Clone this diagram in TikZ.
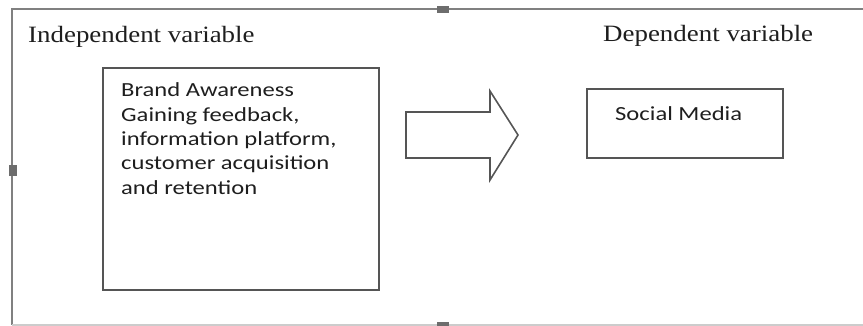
\documentclass[tikz,border=0pt]{standalone}
\usepackage{fontspec}
\setmainfont[FakeStretch=1.15]{Liberation Serif}
\newfontfamily\calib[FakeStretch=1.23]{Carlito}
\definecolor{framegray}{RGB}{128,128,128}
\definecolor{boxgray}{RGB}{85,85,85}
\definecolor{txt}{RGB}{30,30,30}
\begin{document}
\begin{tikzpicture}[x=1pt,y=-1pt,
  frame/.style={draw=framegray,line width=1.8pt},
  handle/.style={fill=framegray!85!black,draw=none},
  boxline/.style={draw=boxgray,line width=1.6pt},
  heading/.style={inner sep=0pt,anchor=base west,text=txt,font=\fontsize{23.4}{28}\selectfont},
  body/.style={inner sep=0pt,anchor=base west,text=txt,align=left,font=\calib\fontsize{20}{24.3}\selectfont}]
\useasboundingbox (0,0) rectangle (863,326);
% outer frame
\draw[frame] (863,9) -- (12,9) -- (12,325);
\draw[draw=framegray!40,line width=1.5pt] (12,325) -- (863,325);
\fill[handle] (437,6) rectangle (449,13);
\fill[handle] (9,165) rectangle (17,176);
\fill[handle] (437,322) rectangle (449,326);
% headings
\node[heading] (ivlabel) at (28,43) {Independent variable};
\node[heading] (dvlabel) at (603,42) {Dependent variable};
% boxes
\draw[boxline] (103,68) rectangle (379,290);
\node[body] (ivtext) at (121,194.2) {Brand Awareness\\Gaining feedback,\\information platform,\\customer acquisition\\and retention};
\draw[boxline] (587,89) rectangle (783,158);
\node[body] (dvtext) at (615,121) {Social Media};
% block arrow
\draw[boxline,line join=miter] (406,112) -- (490,112) -- (490,91) -- (518,135) -- (490,180) -- (490,158) -- (406,158) -- cycle;
\end{tikzpicture}
\end{document}
